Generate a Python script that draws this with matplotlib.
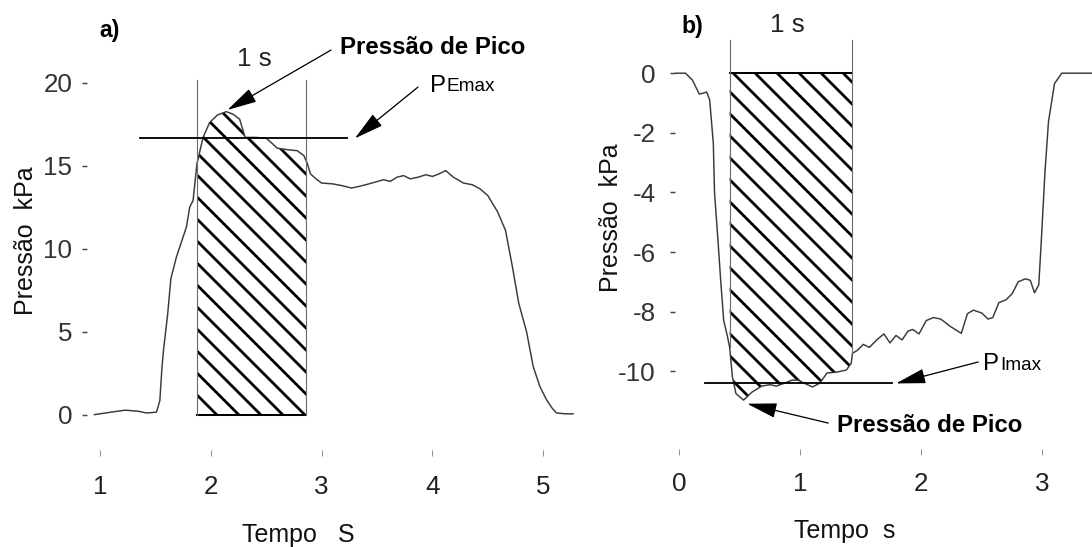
import numpy as np
import matplotlib
matplotlib.use('Agg')
import matplotlib.pyplot as plt

# ---------------- data: panel a (expiração) ----------------
tempo_a = [0.95, 1.10, 1.23, 1.35, 1.42, 1.51, 1.54, 1.56, 1.575, 1.61, 1.64, 1.69,
           1.73, 1.78, 1.81, 1.84, 1.875, 1.93, 1.99, 2.06, 2.14, 2.20, 2.26, 2.31,
           2.40, 2.50, 2.56, 2.60, 2.70, 2.78, 2.84, 2.87, 2.90, 2.95, 3.00, 3.10,
           3.18, 3.27, 3.34, 3.40, 3.48, 3.56, 3.62, 3.68, 3.74, 3.80, 3.87, 3.94,
           4.00, 4.06, 4.12, 4.19, 4.28, 4.36, 4.43, 4.50, 4.59, 4.66, 4.72, 4.78,
           4.85, 4.91, 4.97, 5.03, 5.08, 5.12, 5.20, 5.27]
pressao_a = [0.0, 0.15, 0.27, 0.2, 0.1, 0.15, 0.84, 2.9, 4.0, 6.0, 8.2, 9.5,
             10.3, 11.3, 12.5, 12.9, 15.1, 16.7, 17.6, 18.05, 18.25, 18.1, 17.8, 16.7,
             16.7, 16.65, 16.3, 16.05, 15.95, 15.9, 15.6, 15.15, 14.5, 14.2, 13.95, 13.9,
             13.8, 13.65, 13.75, 13.85, 14.0, 14.15, 14.05, 14.3, 14.4, 14.2, 14.3, 14.45,
             14.35, 14.5, 14.7, 14.3, 13.95, 13.85, 13.6, 13.2, 12.2, 11.1, 9.0, 6.7,
             5.0, 2.9, 1.7, 0.9, 0.4, 0.1, 0.05, 0.05]
janela_a = [1.88, 2.86]          # janela de 1 s
pemax = 16.64                    # nível PEmax
pemax_linha = [1.365, 3.23]
xticks_a = [1, 2, 3, 4, 5]
yticks_a = [0, 5, 10, 15, 20]

# ---------------- data: panel b (inspiração) ----------------
tempo_b = [-0.08, 0.05, 0.107, 0.164, 0.196, 0.225, 0.25, 0.28, 0.29, 0.32, 0.34,
           0.366, 0.395, 0.415, 0.438, 0.467, 0.53, 0.60, 0.68, 0.75, 0.80, 0.87,
           0.93, 0.98, 1.03, 1.10, 1.16, 1.22, 1.30, 1.38, 1.42, 1.43, 1.47, 1.52,
           1.57, 1.63, 1.69, 1.74, 1.79, 1.84, 1.89, 1.93, 1.98, 2.04, 2.10, 2.16,
           2.24, 2.33, 2.38, 2.43, 2.50, 2.55, 2.59, 2.64, 2.70, 2.75, 2.80, 2.86,
           2.90, 2.935, 2.97, 2.99, 3.02, 3.05, 3.10, 3.16, 3.41]
pressao_b = [0.0, 0.0, -0.23, -0.7, -0.67, -0.63, -0.9, -2.35, -4.0, -5.7, -6.9,
             -8.3, -8.8, -9.2, -10.2, -10.75, -10.97, -10.7, -10.5, -10.45, -10.5, -10.4,
             -10.3, -10.3, -10.4, -10.53, -10.4, -10.06, -10.03, -9.96, -9.73, -9.4, -9.3, -9.1,
             -9.2, -8.95, -8.75, -9.05, -8.8, -8.95, -8.65, -8.6, -8.75, -8.3, -8.2, -8.25,
             -8.5, -8.73, -8.07, -7.95, -8.05, -8.25, -8.2, -7.7, -7.6, -7.4, -7.0, -6.9,
             -6.95, -7.37, -7.1, -5.7, -3.4, -1.64, -0.35, 0.0, 0.0]
janela_b = [0.415, 1.43]
pimax = -10.41
pimax_linha = [0.21, 1.76]
xticks_b = [0, 1, 2, 3]
yticks_b = [0, -2, -4, -6, -8, -10]

# ---------------- figure ----------------
DPI = 132
W, H = 1092, 547
plt.rcParams['axes.unicode_minus'] = False
plt.rcParams['hatch.linewidth'] = 1.5
NARROW = ['Liberation Sans Narrow', 'Liberation Sans', 'DejaVu Sans']
REG = ['Liberation Sans', 'DejaVu Sans']
plt.rcParams['font.family'] = NARROW

fig = plt.figure(figsize=(W / DPI, H / DPI), dpi=DPI)
fig.patch.set_facecolor('white')


def pt(px):
    return px * 72.0 / DPI


def box(x0, y0, x1, y1):
    # pixel box (top-down y) -> figure fraction rect
    return [x0 / W, 1 - y1 / H, (x1 - x0) / W, (y1 - y0) / H]


axA = fig.add_axes(box(86.7, 57.7, 576.4, 449.5))
axA.set_xlim(0.88, 5.3)
axA.set_ylim(-2.1, 21.5)

axB = fig.add_axes(box(674.6, 28.5, 1092, 448.7))
axB.set_xlim(-0.04, 3.41)
axB.set_ylim(-12.6, 1.5)

CURVE = '#3a3a3a'
GUIDE = '#6a6a6a'

for ax in (axA, axB):
    for s in ax.spines.values():
        s.set_visible(False)
    ax.patch.set_alpha(0)

TICKFS = pt(26)
HATCH = '\\\\'

# ---- panel a ----
ta = np.array(tempo_a); pa = np.array(pressao_a)
axA.plot(ta, pa, color=CURVE, lw=0.8, zorder=3)
xa = np.concatenate([[janela_a[0]], ta[(ta > janela_a[0]) & (ta < janela_a[1])], [janela_a[1]]])
ya = np.interp(xa, ta, pa)
axA.fill_between(xa, 0, ya, facecolor='none', edgecolor='black', hatch=HATCH, linewidth=0, zorder=2)
axA.plot(janela_a, [0, 0], color='black', lw=1.1, zorder=3)
for xv in janela_a:
    axA.plot([xv, xv], [0, 20.15], color=GUIDE, lw=0.6, zorder=3)
axA.plot(pemax_linha, [pemax, pemax], color='black', lw=1.0, zorder=4)

axA.set_xticks(xticks_a)
axA.set_yticks(yticks_a)
axA.tick_params(axis='x', direction='out', length=pt(6), width=0.5, color='#888888',
                pad=pt(19), labelsize=TICKFS, labelcolor='#222222')
axA.tick_params(axis='y', direction='out', length=pt(5), width=0.8, color='#444444',
                pad=pt(9.5), labelsize=TICKFS, labelcolor='#333333')

# ---- panel b ----
tb = np.array(tempo_b); pb = np.array(pressao_b)
axB.plot(tb, pb, color=CURVE, lw=0.8, zorder=3)
xb = np.concatenate([[janela_b[0]], tb[(tb > janela_b[0]) & (tb < janela_b[1])], [janela_b[1]]])
yb = np.interp(xb, tb, pb)
axB.fill_between(xb, yb, 0, facecolor='none', edgecolor='black', hatch=HATCH, linewidth=0, zorder=2)
axB.plot(janela_b, [0, 0], color='black', lw=1.1, zorder=3)
for xv in janela_b:
    axB.plot([xv, xv], [np.interp(xv, tb, pb), 1.11], color=GUIDE, lw=0.6, zorder=3)
axB.plot(pimax_linha, [pimax, pimax], color='black', lw=1.0, zorder=4)

axB.set_xticks(xticks_b)
axB.set_yticks(yticks_b)
axB.tick_params(axis='x', direction='out', length=pt(6), width=0.5, color='#888888',
                pad=pt(17), labelsize=TICKFS, labelcolor='#222222')
axB.tick_params(axis='y', direction='out', length=pt(5), width=0.8, color='#444444',
                pad=pt(14), labelsize=TICKFS, labelcolor='#333333')

# ---- arrows ----
AST = '-|>,head_length=1.4,head_width=0.35'


def arrow(ax, tip, tail):
    ax.annotate('', xy=tip, xytext=tail,
                arrowprops=dict(arrowstyle=AST, color='black', lw=0.7,
                                shrinkA=0, shrinkB=0, mutation_scale=10),
                annotation_clip=False, zorder=6)


ipk_a = int(np.argmax(pa))
arrow(axA, (ta[ipk_a] + 0.01, pa[ipk_a] + 0.1), (3.085, 21.96))
arrow(axA, (pemax_linha[1] + 0.07, pemax), (3.87, 19.73))
ipk_b = int(np.argmin(pb))
arrow(axB, (tb[ipk_b] + 0.03, pb[ipk_b] - 0.12), (1.23, -11.74))
arrow(axB, (pimax_linha[1] + 0.03, pimax), (2.47, -9.69))


# ---- texts ----
def ftext(x, y, s, **kw):
    return fig.text(x / W, 1 - y / H, s, **kw)


ftext(110, 30, 'a)', fontsize=pt(23), fontweight='bold', family=NARROW, ha='center', va='center')
ftext(692, 26, 'b)', fontsize=pt(23), fontweight='bold', family=NARROW, ha='center', va='center')
ftext(254, 59, '1 s', fontsize=TICKFS, family=NARROW, ha='center', va='center', color='#222222')
ftext(787, 25, '1 s', fontsize=TICKFS, family=NARROW, ha='center', va='center', color='#222222')

ftext(340, 48, 'Pressão de Pico', fontsize=pt(24), fontweight='bold', family=REG,
      ha='left', va='center')
ftext(837, 425, 'Pressão de Pico', fontsize=pt(24), fontweight='bold', family=REG,
      ha='left', va='center')


def pmax_label(x, y, sub):
    t = ftext(x, y, 'P', fontsize=pt(24), family=REG, ha='left', va='baseline')
    fig.add_artist(plt.Annotation(sub, xy=(1, 0), xycoords=t, xytext=(0.5, 0.8),
                                  textcoords='offset points', fontsize=pt(19), family=REG,
                                  ha='left', va='bottom', annotation_clip=False))


pmax_label(430, 91.5, 'Emax')
pmax_label(983, 370.5, 'Imax')

ftext(26, 241, 'Pressão  kPa', fontsize=pt(25), family=REG, rotation=90,
      ha='center', va='center', color='#111111')
ftext(611, 218, 'Pressão  kPa', fontsize=pt(25), family=REG, rotation=90,
      ha='center', va='center', color='#111111')
ftext(298, 535, 'Tempo   S', fontsize=pt(25), family=REG, ha='center', va='center', color='#111111')
ftext(845, 531, 'Tempo  s', fontsize=pt(25), family=REG, ha='center', va='center', color='#111111')

fig.savefig('out.png', dpi=DPI, facecolor='white')
